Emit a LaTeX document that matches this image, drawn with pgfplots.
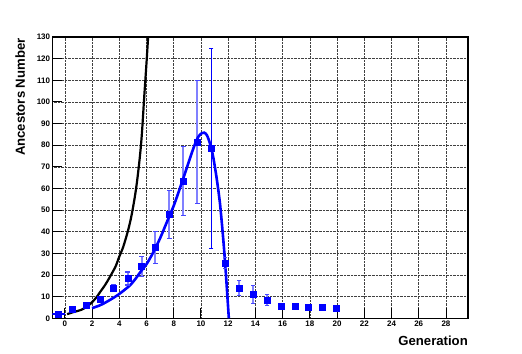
\documentclass[border=0pt]{standalone}
\usepackage{fontspec}
\setmainfont{Liberation Sans}
\usepackage{pgfplots}
\usepackage{pgfplotstable}
\pgfplotsset{compat=1.18}
\definecolor{lightb}{RGB}{128,128,255}
\definecolor{capb}{RGB}{70,70,255}
\pgfplotstableread{
x y
-0.50 2.0
0.52 4.0
1.55 6.2
2.57 9.0
3.59 14.1
4.62 18.4
5.64 24.0
6.66 32.7
7.68 48.0
8.71 63.5
9.73 81.5
10.75 78.4
11.78 25.5
12.80 14.0
13.82 11.0
14.85 8.5
15.87 5.6
16.89 5.5
17.91 5.0
18.94 5.2
19.96 4.8
}\pts
\pgfplotstableread{
x lo hi
3.59 12.6 15.6
4.62 15.4 21.4
5.64 19.5 28.5
6.66 25.2 40.2
7.68 37.0 59.0
8.71 47.5 79.5
9.73 53.0 110.0
11.78 23.0 28.0
12.80 10.5 17.5
13.82 7.0 15.0
14.85 6.0 11.0
}\errs
\begin{document}
\begin{tikzpicture}
\useasboundingbox (-52.3bp,-35.7bp) rectangle (469.7bp,318.3bp);
\begin{axis}[
  at={(0,0)}, anchor=south west,
  scale only axis, width=415.7bp, height=281.3bp,
  xmin=-0.92, xmax=29.62, ymin=0, ymax=130,
  xtick={0,2,...,28}, ytick={0,10,...,130},
  xtick pos=bottom, ytick pos=left, tick align=inside,
  major tick length=10bp,
  tick style={black, line width=0.9bp},
  axis line style={black, line width=1.4bp},
  grid=major,
  major grid style={black!75, densely dotted, line width=0.6bp},
  /pgf/number format/assume math mode=true,
  ticklabel style={font=\fontsize{8}{9}\selectfont\bfseries, inner sep=1bp},
  xticklabel style={yshift=-1.5bp},
  yticklabel style={xshift=-1bp},
  xlabel={Generation},
  ylabel={Ancestors Number},
  label style={font=\fontsize{13.2}{15}\selectfont\bfseries, inner sep=0pt},
  xlabel style={at={(axis description cs:1,0)}, anchor=north east, yshift=-17bp},
  ylabel style={at={(axis description cs:-0.0657,0.996)}, anchor=base east},
  clip=true,
]
% black curve
\addplot[black, line width=2.2bp, smooth] coordinates {
(0.17,1.9)(0.6,2.8)(1.2,3.9)(1.6,5.3)(1.9,6.8)(2.3,9.5)(2.6,12.2)(2.97,15.5)
(3.3,19)(3.73,24)(4.0,28.5)(4.29,33)(4.65,40.7)(4.9,47.5)(5.14,56)
(5.3,63)(5.46,71.5)(5.58,79)(5.68,87)(5.83,102)(6.0,118)(6.12,130)(6.2,138)};
% light error bars: stems and caps
\pgfplotsinvokeforeach{0,...,10}{
  \pgfplotstablegetelem{#1}{x}\of\errs \edef\ex{\pgfplotsretval}
  \pgfplotstablegetelem{#1}{lo}\of\errs \edef\elo{\pgfplotsretval}
  \pgfplotstablegetelem{#1}{hi}\of\errs \edef\ehi{\pgfplotsretval}
  \edef\temp{\noexpand\addplot[lightb, line width=2bp, mark=-, mark size=2.3bp,
     mark options={solid, capb, line width=1.1bp}] coordinates {(\ex,\elo) (\ex,\ehi)};}
  \temp
}
% dark error bar
\addplot[blue, line width=1.1bp, mark=-, mark size=2.3bp, mark options={solid, line width=1.1bp}]
  coordinates {(10.75,32.2) (10.75,124.6)};
% x error of first point
\addplot[blue, line width=1.2bp] coordinates {(-0.92,2.0) (0.0,2.0)};
% data points
\addplot[only marks, mark=square*, mark size=3bp, blue] table[x=x, y=y] {\pts};
% blue curve
\addplot[blue, line width=2.6bp, smooth] coordinates {
(2.0,4.7)(2.5,5.8)(2.9,7)(3.4,8.8)(3.9,10.8)(4.4,13.2)(4.8,15.3)(5.2,18.3)
(5.6,21.8)(6.0,25)(6.5,30.5)(7.0,37)(7.5,44.5)(8.0,52)(8.45,60)(8.8,66.5)
(9.2,74)(9.5,79.5)(9.8,83.8)(10.05,85.5)(10.24,85.8)(10.45,84.5)(10.7,80)
(10.9,74.6)(11.1,67)(11.25,60.5)(11.4,53)(11.55,43)(11.68,33.5)(11.76,26.8)
(11.85,19)(11.95,9.5)(12.05,0)};
\end{axis}
\end{tikzpicture}
\end{document}
